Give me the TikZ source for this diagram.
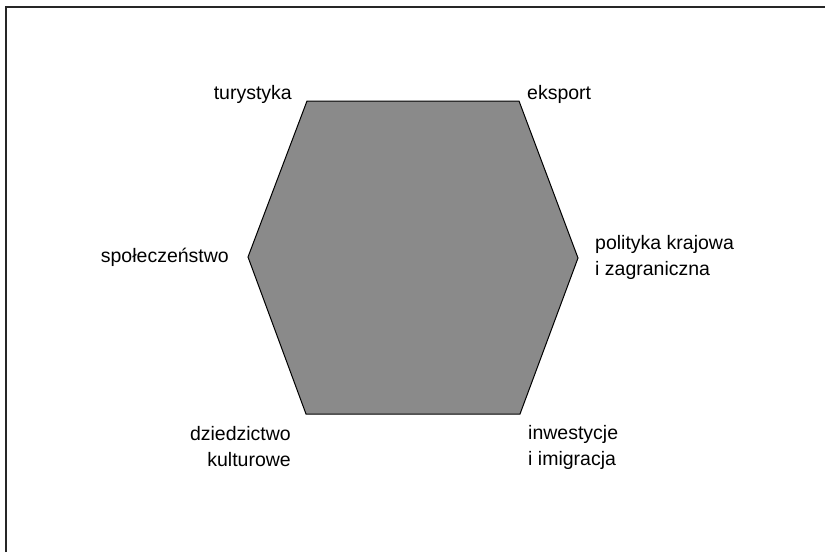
\documentclass[tikz,border=0pt]{standalone}
\usepackage{fontspec}
\setmainfont{Liberation Sans}
\begin{document}
\begin{tikzpicture}[x=1pt,y=-1pt,
  lbl/.style={inner sep=0pt,font=\fontsize{19.5}{25.5}\selectfont},
  hexfill/.style={fill=black!46,draw=black,line width=1pt,line join=miter}]
\useasboundingbox (0,0) rectangle (825,552);
\draw[line width=1.6pt,black!85] (6,552) -- (6,7) -- (825,7);
\coordinate (tl) at (307,101);
\coordinate (tr) at (519,101);
\coordinate (r) at (578,258);
\coordinate (br) at (520,414);
\coordinate (bl) at (306,414);
\coordinate (l) at (248,257);
\draw[hexfill] (tl) -- (tr) -- (r) -- (br) -- (bl) -- (l) -- cycle;
\node[lbl,anchor=base east] (tur) at (292,99) {turystyka};
\node[lbl,anchor=base west] (eks) at (527,99) {eksport};
\node[lbl,anchor=base east] (spo) at (229,262) {społeczeństwo};
\node[lbl,anchor=base west,align=left] (pol) at (595,275) {polityka krajowa\\i zagraniczna};
\node[lbl,anchor=base east,align=right] (dzi) at (291,466) {dziedzictwo\\kulturowe};
\node[lbl,anchor=base west,align=left] (inw) at (528,465) {inwestycje\\i imigracja};
\end{tikzpicture}
\end{document}
